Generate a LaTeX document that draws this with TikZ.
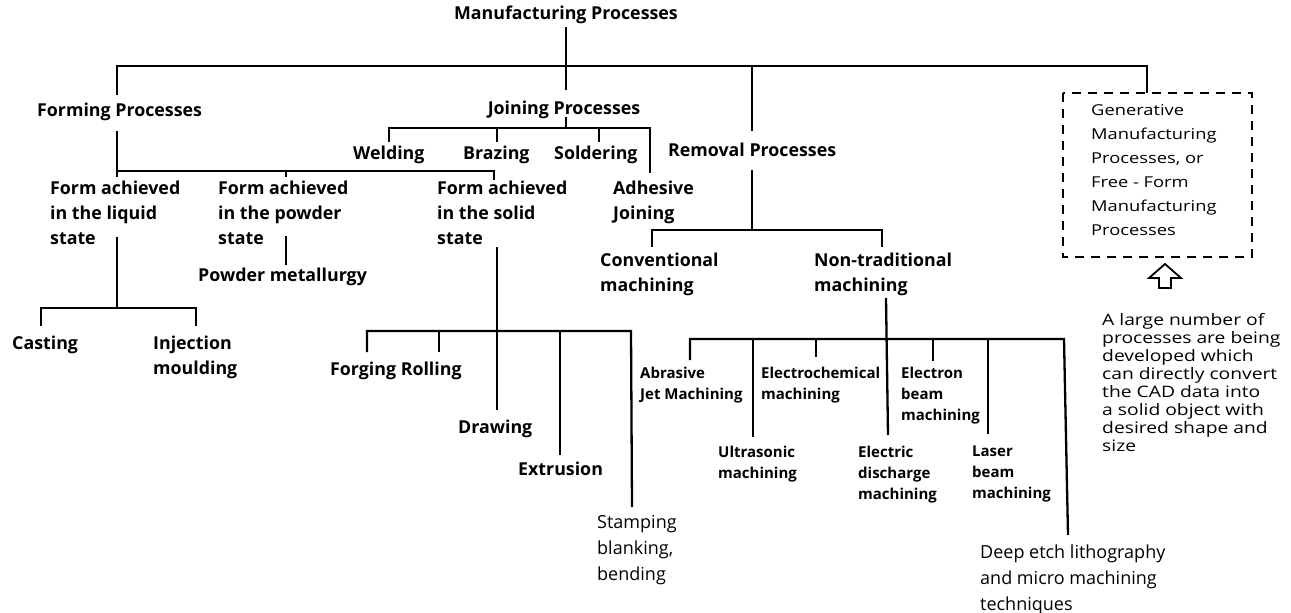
\documentclass[tikz,border=0pt]{standalone}
\usepackage{fontspec}
\setmainfont{Open Sans}
\newfontfamily\widefont[FakeStretch=1.22]{Open Sans}
\begin{document}
\begin{tikzpicture}[x=1pt,y=-1pt,
  ln/.style={line width=2.3pt, line join=miter},
  big/.style={anchor=north west, inner sep=0pt, align=left, font=\fontsize{17.8}{25}\selectfont\bfseries},
  bigr/.style={anchor=north west, inner sep=0pt, align=left, font=\fontsize{18}{26}\selectfont},
  small/.style={anchor=north west, inner sep=0pt, align=left, font=\fontsize{15}{21}\selectfont\bfseries},
  gen/.style={anchor=north west, inner sep=0pt, align=left, font=\widefont\fontsize{15}{24}\selectfont},
  note/.style={anchor=north west, inner sep=0pt, align=left, font=\widefont\fontsize{15.8}{18}\selectfont},
  dbox/.style={draw, line width=1.4pt, dash pattern=on 9pt off 7pt}]
\useasboundingbox[fill=white] (0,0) rectangle (1291,613);

% ---------- labels ----------
\node[big, anchor=north] (mp) at (566,6) {Manufacturing Processes};
\node[big] (fp) at (37,103) {Forming Processes};
\node[big, anchor=north] (jp) at (564,101) {Joining Processes};
\node[big] (wel) at (353,146) {Welding};
\node[big] (bra) at (463,146) {Brazing};
\node[big] (sol) at (554,146) {Soldering};
\node[big] (rp) at (668,143) {Removal Processes};
\node[big] (liq) at (50,181) {Form achieved\\in the liquid\\state};
\node[big] (pow) at (218,181) {Form achieved\\in the powder\\state};
\node[big] (sld) at (437,181) {Form achieved\\in the solid\\state};
\node[big] (adh) at (613,181) {Adhesive\\Joining};
\node[big] (pm) at (198,268) {Powder metallurgy};
\node[big] (conv) at (600,253) {Conventional\\machining};
\node[big] (nont) at (814,253) {Non-traditional\\machining};
\node[big] (cast) at (12,336) {Casting};
\node[big] (inj) at (153,336) {Injection\\moulding};
\node[big] (forg) at (330,362) {Forging Rolling};
\node[big] (draw) at (458,420) {Drawing};
\node[big] (extr) at (518,462) {Extrusion};
\node[bigr] (stmp) at (597,515) {Stamping\\blanking,\\bending};
\node[small] (abr) at (640,367) {Abrasive\\Jet Machining};
\node[small] (ecm) at (761,367) {Electrochemical\\machining};
\node[small] (ebm) at (901,367) {Electron\\beam\\machining};
\node[small] (usm) at (718,446) {Ultrasonic\\machining};
\node[small] (edm) at (858,446) {Electric\\discharge\\machining};
\node[small] (lbm) at (972,446) {Laser\\beam\\machining};
\node[bigr] (deep) at (980,545) {Deep etch lithography\\and micro machining\\techniques};
\node[gen] (gtext) at (1091,104) {Generative\\Manufacturing\\Processes, or\\Free - Form\\Manufacturing\\Processes};
\node[note] (nt) at (1102,313) {A large number of\\processes are being\\developed which\\can directly convert\\the CAD data into\\a solid object with\\desired shape and\\size};

% dashed box
\coordinate (gbTL) at (1063,93);
\coordinate (gbBR) at (1252,257);
\draw[dbox] (gbTL) rectangle (gbBR);
\coordinate (gbTop) at (1147,93);

% hollow up arrow
\draw[line width=1.8pt, line join=miter] (1165,264) -- (1181,278) -- (1171,278) -- (1171,288) -- (1159,288) -- (1159,278) -- (1149,278) -- cycle;

% ---------- connectors ----------
% level 0
\coordinate (mpA) at (566,27);
\coordinate (mpB) at (566,90);
\coordinate (b0L) at (117,66);
\coordinate (b0R) at (1147,66);
\coordinate (fpT) at (117,95);
\coordinate (b0M) at (752,66);
\coordinate (rpT) at (752,131);
\draw[ln] (mpA) -- (mpB);
\draw[ln] (fpT) -- (b0L) -- (b0R) -- (gbTop);
\draw[ln] (b0M) -- (rpT);

% forming
\coordinate (fpB) at (117,131);
\coordinate (b1L) at (117,171);
\coordinate (b1Lt) at (117,177);
\coordinate (b1R) at (494,171);
\coordinate (sldT) at (494,180);
\coordinate (b1M) at (286,171);
\coordinate (powT) at (286,177);
\draw[ln] (fpB) -- (b1Lt);
\draw[ln] (b1L) -- (b1R) -- (sldT);
\draw[ln] (b1M) -- (powT);

% joining
\coordinate (jpB) at (566,117);
\coordinate (b2M) at (566,128);
\coordinate (b2L) at (389,128);
\coordinate (welT) at (389,142);
\coordinate (b2a) at (497,128);
\coordinate (braT) at (497,142);
\coordinate (b2b) at (599,128);
\coordinate (solT) at (599,142);
\coordinate (b2R) at (650,128);
\coordinate (adhT) at (650,173);
\draw[ln] (jpB) -- (b2M);
\draw[ln] (welT) -- (b2L) -- (b2R) -- (adhT);
\draw[ln] (b2a) -- (braT);
\draw[ln] (b2b) -- (solT);

% removal
\coordinate (rpB) at (752,170);
\coordinate (b3M) at (752,230);
\coordinate (b3L) at (652,230);
\coordinate (b3R) at (882,230);
\coordinate (convT) at (652,247);
\coordinate (nontT) at (882,247);
\draw[ln] (rpB) -- (b3M);
\draw[ln] (convT) -- (b3L) -- (b3R) -- (nontT);

% liquid
\coordinate (liqB) at (117,237);
\coordinate (b4M) at (117,308);
\coordinate (b4L) at (41,308);
\coordinate (b4R) at (196,308);
\coordinate (castT) at (41,326);
\coordinate (injT) at (196,326);
\draw[ln] (liqB) -- (b4M);
\draw[ln] (castT) -- (b4L) -- (b4R) -- (injT);

% powder
\coordinate (powB) at (286,236);
\coordinate (pmT) at (286,265);
\draw[ln] (powB) -- (pmT);

% solid
\coordinate (sldB) at (497,247);
\coordinate (drawT) at (497,410);
\coordinate (b5L) at (367,331);
\coordinate (b5R) at (631,331);
\coordinate (forT) at (367,352);
\coordinate (b5a) at (439,331);
\coordinate (rolT) at (439,352);
\coordinate (b5b) at (560,331);
\coordinate (extT) at (560,455);
\coordinate (stmT) at (632,507);
\draw[ln] (sldB) -- (drawT);
\draw[ln] (forT) -- (b5L) -- (b5R) -- (stmT);
\draw[ln] (b5a) -- (rolT);
\draw[ln] (b5b) -- (extT);

% non-traditional
\coordinate (nontB) at (886,298);
\coordinate (edmT) at (888,435);
\coordinate (b6L) at (690,339);
\coordinate (b6R) at (1064,339);
\coordinate (abrT) at (690,360);
\coordinate (b6a) at (753,339);
\coordinate (usmT) at (753,437);
\coordinate (b6b) at (816,339);
\coordinate (ecmT) at (816,357);
\coordinate (b6c) at (933,339);
\coordinate (ebmT) at (933,361);
\coordinate (b6d) at (988,339);
\coordinate (lbmT) at (988,434);
\coordinate (deepT) at (1068,535);
\draw[ln] (nontB) -- (edmT);
\draw[ln] (abrT) -- (b6L) -- (b6R) -- (deepT);
\draw[ln] (b6a) -- (usmT);
\draw[ln] (b6b) -- (ecmT);
\draw[ln] (b6c) -- (ebmT);
\draw[ln] (b6d) -- (lbmT);
\end{tikzpicture}
\end{document}
